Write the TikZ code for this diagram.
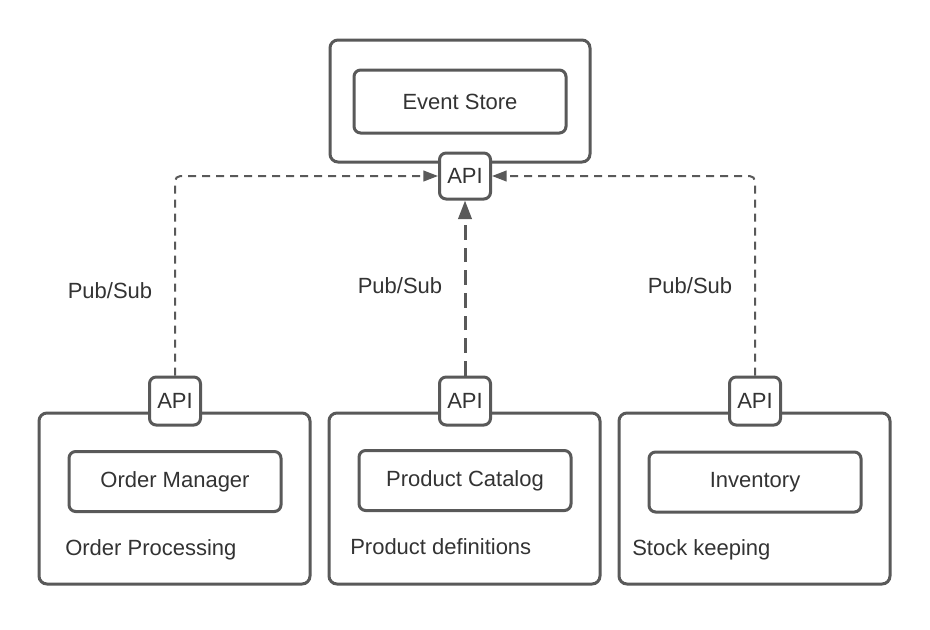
\documentclass[tikz,border=0pt]{standalone}
\usepackage{fontspec}
\setmainfont{Liberation Sans}
\usetikzlibrary{arrows.meta,positioning}
\definecolor{linegray}{RGB}{89,89,89}
\definecolor{textgray}{RGB}{51,51,51}

\begin{document}
\begin{tikzpicture}[
  x=0.75pt,y=-0.75pt,
  font=\fontsize{16.5}{19}\selectfont,text=textgray,
  outer/.style={draw=linegray,line width=2.25pt,rounded corners=6pt,
    minimum width=203.25pt,minimum height=128.25pt,inner sep=0pt},
  inner/.style={draw=linegray,line width=2.25pt,rounded corners=5pt,
    minimum width=159pt,minimum height=45pt},
  api/.style={draw=linegray,line width=2.25pt,rounded corners=5pt,fill=white,
    minimum width=38.25pt,minimum height=36pt,inner sep=0pt},
  caption/.style={anchor=base west,inner sep=0pt},
  pubsub/.style={anchor=base,inner sep=0pt},
  link/.style={draw=linegray,line width=1.5pt,dash pattern=on 6pt off 4.5pt,
    rounded corners=4pt,-{Triangle[length=11pt,width=8pt]}},
  linkbold/.style={draw=linegray,line width=2.25pt,dash pattern=on 11pt off 6pt,
    -{Triangle[length=14pt,width=10pt]}}
]
\fill[white] (0,0) rectangle (930,629);
\useasboundingbox (0,0) rectangle (930,629);

% event store at the top
\node[outer,minimum width=195pt,minimum height=91.5pt] (store) at (460,101) {};
\node[inner,minimum height=47.25pt] (evstore) at (460,101.5) {Event Store};
\node[api,minimum height=34.5pt] (storeapi) at (465,176) {API};

% the three services
\node[outer] (order) at (174.5,498.5) {};
\node[inner] (ordermgr) at (175,481.5) {Order Manager};
\node[caption] (ordertxt) at (65,555) {Order Processing};
\node[api] (orderapi) at (175,401) {API};

\node[outer] (product) at (464.5,498.5) {};
\node[inner] (catalog) at (465,480.5) {Product Catalog};
\node[caption] (producttxt) at (350,554) {Product definitions};
\node[api] (productapi) at (465,401) {API};

\node[outer] (stock) at (754.5,498.5) {};
\node[inner] (inventory) at (755,482) {Inventory};
\node[caption] (stocktxt) at (632,555) {Stock keeping};
\node[api] (stockapi) at (755,401) {API};

% pub/sub links
\node[pubsub] (pubsub1) at (110,298) {Pub/Sub};
\node[pubsub] (pubsub2) at (400,293) {Pub/Sub};
\node[pubsub] (pubsub3) at (690,293) {Pub/Sub};
\draw[link] (orderapi) |- (storeapi);
\draw[linkbold] (productapi) -- (storeapi);
\draw[link] (stockapi) |- (storeapi);
\end{tikzpicture}
\end{document}
